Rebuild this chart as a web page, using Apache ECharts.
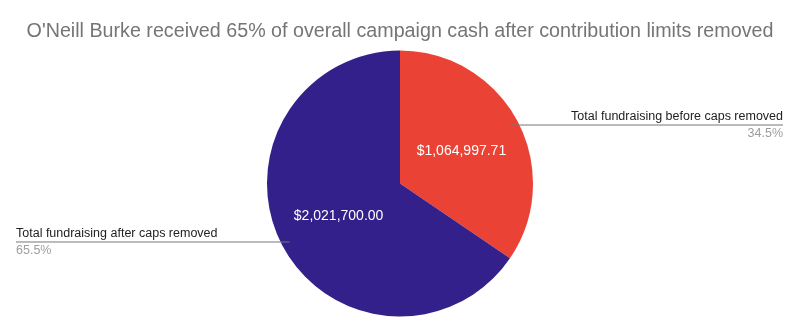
<!DOCTYPE html>
<html><head><meta charset="utf-8">
<script src="https://cdn.jsdelivr.net/npm/echarts@6/dist/echarts.min.js"></script>
<style>html,body{margin:0;padding:0;background:#fff}#c{width:800px;height:333px}</style>
</head><body><div id="c"></div>
<script>
const titleText = "O'Neill Burke received 65% of overall campaign cash after contribution limits removed";
const categories = ['Total fundraising before caps removed', 'Total fundraising after caps removed'];
const values = [1064997.71, 2021700.00];
const colors = ['#EA4335', '#33208A'];

const cx = 400, cy = 183.5, R = 133;
const total = values.reduce((a, b) => a + b, 0);
const anchors = [];
let cum = 0;
values.forEach(v => {
  const mid = (cum + v / 2) / total * Math.PI * 2;
  cum += v;
  anchors.push([cx + R * 0.94 * Math.sin(mid), cy - R * 0.94 * Math.cos(mid)]);
});
const pct = v => (v / total * 100).toFixed(1) + '%';
const money = v => '$' + v.toLocaleString('en-US', {minimumFractionDigits: 2, maximumFractionDigits: 2});

const data = categories.map((c, i) => ({name: c, value: values[i], itemStyle: {color: colors[i]}}));
const ghost = categories.map((c, i) => ({name: c, value: values[i]}));

const chart = echarts.init(document.getElementById('c'), null, {renderer: 'canvas'});
chart.setOption({
  backgroundColor: '#ffffff',
  animation: false,
  title: {
    text: titleText, left: 'center', top: 17,
    textStyle: {fontFamily: 'Liberation Sans', fontSize: 19.7, fontWeight: 'normal', color: '#757575'}
  },
  series: [
    {
      type: 'pie', center: [cx, cy], radius: R, startAngle: 90, clockwise: true,
      silent: true, data: data,
      label: {
        show: true, position: 'inside', formatter: p => money(p.value),
        fontFamily: 'Liberation Sans', fontSize: 14, color: '#ffffff'
      },
      labelLine: {show: false}
    },
    {
      type: 'pie', center: [cx, cy], radius: R, startAngle: 90, clockwise: true,
      silent: true, z: 3,
      data: ghost,
      itemStyle: {color: 'rgba(0,0,0,0)'},
      label: {
        show: true, position: 'outside',
        formatter: p => '{n|' + p.name + '}\n{p|' + pct(p.value) + '}',
        rich: {
          n: {fontFamily: 'Liberation Sans', fontSize: 12.5, color: '#222222', lineHeight: 17},
          p: {fontFamily: 'Liberation Sans', fontSize: 12.5, color: '#9e9e9e', lineHeight: 17}
        }
      },
      labelLine: {show: true, lineStyle: {color: '#777777', width: 1}},
      labelLayout: function (p) {
        const a = anchors[p.dataIndex];
        const right = a[0] >= cx;
        const ex = right ? 783 : 16;
        return {
          x: ex, y: a[1], align: right ? 'right' : 'left', verticalAlign: 'middle',
          labelLinePoints: [[a[0], a[1]], [ex, a[1]], [ex, a[1]]]
        };
      }
    }
  ]
});
</script></body></html>
